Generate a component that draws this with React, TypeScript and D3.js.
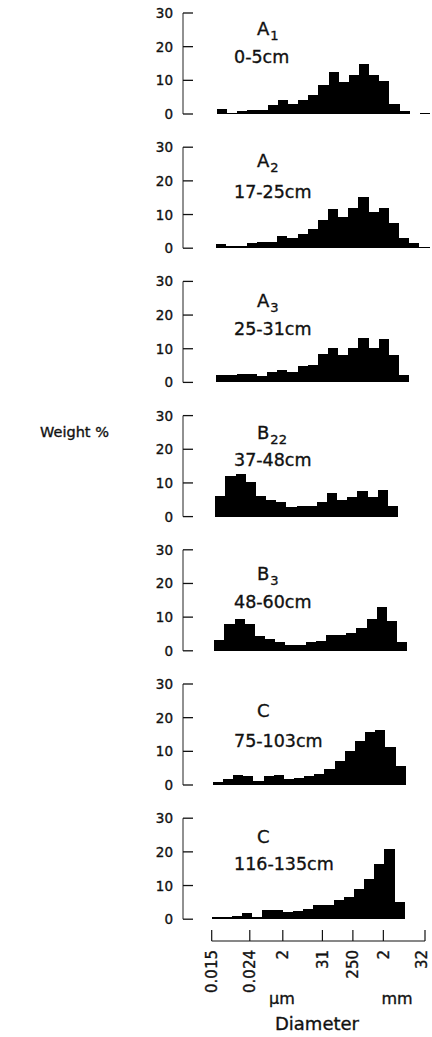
import React from "react";
import * as d3 from "d3";

// horizon labels and sampling depths, top to bottom
const horizons = ["A", "A", "A", "B", "B", "C", "C"];
const subscripts = ["1", "2", "3", "22", "3", "", ""];
const depths = ["0-5cm", "17-25cm", "25-31cm", "37-48cm", "48-60cm", "75-103cm", "116-135cm"];

// where each histogram's first bin starts, in bin units along the diameter axis
const firstBin = [0.5, 0.45, 0.45, 0.35, 0.25, 0.1, 0];

// weight % per size class, fine to coarse
const weightA1 = [1.6, 0.3, 1.0, 1.1, 1.3, 2.8, 4.1, 3.0, 4.3, 5.7, 8.7, 12.4, 9.5, 11.6, 15.0, 11.6, 9.7, 3.1, 0.8, 0, 0.4];
const weightA2 = [1.3, 0.8, 0.8, 1.5, 1.7, 1.7, 3.6, 2.9, 4.2, 5.6, 8.5, 11.5, 9.3, 12.0, 15.3, 10.7, 12.0, 7.4, 2.9, 1.6, 0.5];
const weightA3 = [2.3, 2.3, 2.5, 2.6, 1.9, 3.1, 3.6, 3.1, 4.8, 5.3, 8.3, 10.2, 8.2, 10.2, 13.3, 10.2, 12.8, 8.0, 2.1];
const weightB22 = [6.0, 12.0, 12.8, 10.4, 6.0, 5.0, 4.4, 2.8, 3.2, 3.2, 4.4, 7.0, 5.0, 5.7, 7.5, 5.7, 8.0, 3.2];
const weightB3 = [3.3, 7.9, 9.5, 7.9, 4.3, 3.5, 2.5, 1.8, 1.8, 2.5, 3.0, 4.8, 4.8, 5.4, 6.7, 9.5, 12.9, 8.9, 2.6];
const weightC1 = [0.8, 1.8, 3.1, 2.6, 1.3, 2.8, 3.1, 1.8, 2.0, 2.6, 3.3, 4.8, 7.2, 10.2, 13.2, 15.6, 16.3, 11.4, 5.7];
const weightC2 = [0.8, 0.8, 1.0, 1.8, 0.8, 2.8, 2.8, 2.0, 2.5, 3.1, 4.1, 4.1, 5.8, 6.6, 9.0, 12.0, 16.5, 20.8, 5.1];
const weights = [weightA1, weightA2, weightA3, weightB22, weightB3, weightC1, weightC2];

const yTicks = [0, 10, 20, 30];
const xTickPos = [0, 3.75, 7, 10.9, 13.9, 16.9, 21];
const xTickLabels = ["0.015", "0.024", "2", "31", "250", "2", "32"];

// layout
const W = 432;
const H = 1037;
const FONT = "DejaVu Sans";
const INK = "#111";
const firstZero = 114;
const panelStep = 134.2;
const panelH = 101;
const axisX = 183;
const titleDy = [-79, -81, -75, -78, -71, -68, -76];
const depthDy = [-51, -50, -47, -51, -43, -38, -49];
const bottomAxisY = 941;

const x = d3.scaleLinear().domain([0, 21]).range([211.7, 425]);

const textStyle = { fontFamily: FONT, fill: INK, stroke: INK, strokeWidth: 0.35 };

function Panel({ i }: { i: number }) {
  const zero = firstZero + i * panelStep;
  const y = d3.scaleLinear().domain([0, 30]).range([zero, zero - panelH]);
  const vals = weights[i];
  return (
    <g>
      <line x1={axisX} x2={axisX} y1={y(0)} y2={y(30)} stroke="#222" strokeWidth={1} />
      {yTicks.map((t) => (
        <g key={t}>
          <line x1={axisX} x2={axisX + 10} y1={y(t)} y2={y(t)} stroke={INK} strokeWidth={1.3} />
          <text x={173} y={y(t) + 5} textAnchor="end" fontSize={13.5} style={textStyle}>
            {t}
          </text>
        </g>
      ))}
      {vals.map((v, k) => (
        <rect
          key={k}
          x={x(firstBin[i] + k)}
          width={x(firstBin[i] + k + 1) - x(firstBin[i] + k)}
          y={y(v)}
          height={y(0) - y(v)}
          fill="#000"
          shapeRendering="crispEdges"
        />
      ))}
      <text x={257} y={zero + titleDy[i]} fontSize={18} style={textStyle}>
        {horizons[i]}
        {subscripts[i] && (
          <tspan fontSize={13} dy={5} dx={1}>
            {subscripts[i]}
          </tspan>
        )}
      </text>
      <text x={234} y={zero + depthDy[i]} fontSize={17.5} style={textStyle}>
        {depths[i]}
      </text>
    </g>
  );
}

export default function App() {
  return (
    <svg width={W} height={H} style={{ position: "absolute", left: 0, top: 0, display: "block" }}>
      <rect width={W} height={H} fill="#fff" />
      {weights.map((_, i) => (
        <Panel key={i} i={i} />
      ))}
      <text x={40} y={437} fontSize={14.5} style={textStyle}>
        Weight %
      </text>
      <line x1={x(0)} x2={x(21)} y1={bottomAxisY} y2={bottomAxisY} stroke={INK} strokeWidth={1.2} />
      {xTickPos.map((p, k) => (
        <g key={k}>
          <line x1={x(p)} x2={x(p)} y1={bottomAxisY} y2={bottomAxisY - 11} stroke={INK} strokeWidth={1.2} />
          <text
            transform={`translate(${Math.min(x(p) + 5.5, 427)},950) rotate(-90)`}
            textAnchor="end"
            fontSize={15}
            style={textStyle}
          >
            {xTickLabels[k]}
          </text>
        </g>
      ))}
      <text x={282} y={1004} textAnchor="middle" fontSize={16} style={textStyle}>
        µm
      </text>
      <text x={397} y={1004} textAnchor="middle" fontSize={16} style={textStyle}>
        mm
      </text>
      <text x={317} y={1030} textAnchor="middle" fontSize={18} style={textStyle}>
        Diameter
      </text>
    </svg>
  );
}
